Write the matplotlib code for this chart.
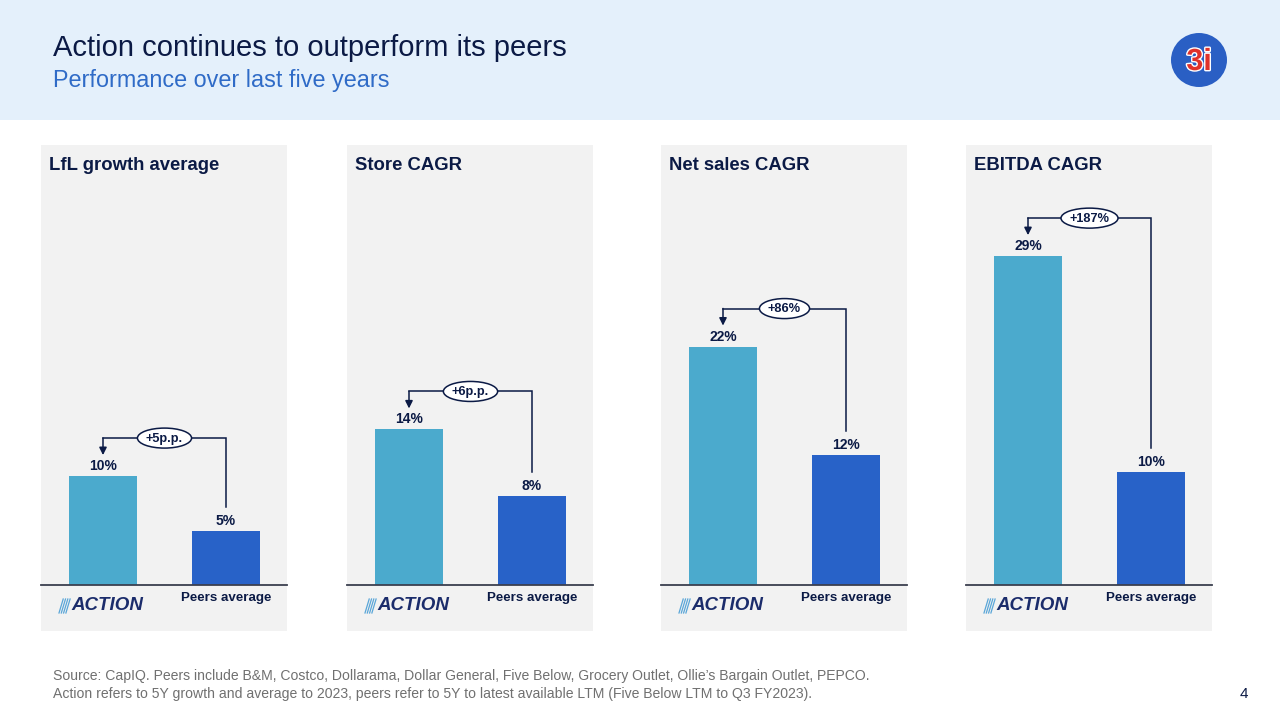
import matplotlib
matplotlib.use("Agg")
import matplotlib.pyplot as plt
from matplotlib.patches import Rectangle, Ellipse
from matplotlib.lines import Line2D
import matplotlib.patheffects as pe

plt.rcParams['font.family'] = ['Liberation Sans', 'DejaVu Sans']

# ---- data ----
panel_titles = ["LfL growth average", "Store CAGR", "Net sales CAGR", "EBITDA CAGR"]
action_values = [10, 14, 22, 29]
peer_values = [5, 8, 12, 10]
diff_labels = ["+5p.p.", "+6p.p.", "+86%", "+187%"]
category_labels = ["ACTION", "Peers average"]
title = "Action continues to outperform its peers"
subtitle = "Performance over last five years"
footnote_1 = "Source: CapIQ. Peers include B&M, Costco, Dollarama, Dollar General, Five Below, Grocery Outlet, Ollie\u2019s Bargain Outlet, PEPCO."
footnote_2 = "Action refers to 5Y growth and average to 2023, peers refer to 5Y to latest available LTM (Five Below LTM to Q3 FY2023)."
page_number = "4"

# ---- style ----
W, H = 1280, 720
NAVY = "#0B1A45"
SUB_BLUE = "#2F6BC7"
ACTION_C = "#4BAACD"
PEER_C = "#2862C8"
PANEL_BG = "#F2F2F2"
HEADER_BG = "#E4F0FB"

fig = plt.figure(figsize=(12.8, 7.2), dpi=100)
fig.patch.set_facecolor("white")
renderer = fig.canvas.get_renderer()


def fx(px):
    return px / W


def fy(py):
    return 1 - py / H


# header band
fig.patches.append(Rectangle((0, fy(120)), 1, 120 / H, transform=fig.transFigure,
                             facecolor=HEADER_BG, edgecolor="none", zorder=0))
fig.text(fx(53), fy(48), title, fontsize=21, color=NAVY, va="center", ha="left")
fig.text(fx(53), fy(80), subtitle, fontsize=16.8, color=SUB_BLUE, va="center", ha="left")

# 3i logo
fig.patches.append(Ellipse((fx(1199), fy(60)), 56 / W, 54 / H, transform=fig.transFigure,
                           facecolor="#2A5FC4", edgecolor="none", zorder=1, angle=0))
fig.text(fx(1199), fy(62), "3i", fontsize=22, fontweight="bold", color="#E0322B",
         ha="center", va="center", zorder=2,
         path_effects=[pe.withStroke(linewidth=2, foreground="white")])

panel_left = [41, 347, 661, 966]
panel_w = 246
panel_top = 145
panel_bottom = 631
baseline_y = 585
ylim_tops = [40.4, 39.6, 40.6, 38.8]
bar_w = 68
c0_off = 62   # action bar centre offset from panel left
c1_off = 185  # peers bar centre offset from panel left
unit = c1_off - c0_off

for i in range(4):
    L = panel_left[i]
    fig.patches.append(Rectangle((fx(L), fy(panel_bottom)), panel_w / W,
                                 (panel_bottom - panel_top) / H, transform=fig.transFigure,
                                 facecolor=PANEL_BG, edgecolor="none", zorder=0))
    fig.text(fx(L + 8), fy(166), panel_titles[i], fontsize=13.3, fontweight="bold",
             color=NAVY, ha="left", va="center")

    ax = fig.add_axes([fx(L), fy(baseline_y), panel_w / W, (baseline_y - panel_top) / H])
    ax.set_zorder(3)
    ax.set_facecolor("none")
    ax.set_xlim(-c0_off / unit, 1 + (panel_w - c1_off) / unit)
    top = ylim_tops[i]
    ax.set_ylim(0, top)
    ppu = (baseline_y - panel_top) / top  # pixels per unit

    a, p = action_values[i], peer_values[i]
    ax.bar([0, 1], [a, p], width=bar_w / unit, color=[ACTION_C, PEER_C], zorder=2)
    for x, v in zip([0, 1], [a, p]):
        ax.text(x, v + 10 / ppu, f"{v}%", ha="center", va="center", fontsize=10,
                fontweight="bold", color=NAVY)

    ax.axis("off")
    ax.plot([ax.get_xlim()[0], ax.get_xlim()[1]], [0, 0], color="#3B3F4F", lw=1.3,
            clip_on=False, zorder=3)

    # bracket
    y_br = a + 38 / ppu
    ax.plot([1, 1, 0], [p + 24 / ppu, y_br, y_br], color=NAVY, lw=1.1, zorder=3,
            solid_joinstyle="miter")
    ax.annotate("", xy=(0, a + 21 / ppu), xytext=(0, y_br + 0.01),
                arrowprops=dict(arrowstyle="-|>", color=NAVY, lw=1.1,
                                mutation_scale=11, shrinkA=0, shrinkB=0))
    t = ax.text(0.5, y_br - 0.8 / ppu, diff_labels[i], ha="center", va="center",
                fontsize=9.2, fontweight="bold", color=NAVY, zorder=5)
    tw = t.get_window_extent(renderer).width
    ax.add_patch(Ellipse((0.5, y_br), (tw + 17) / unit, 20 / ppu, facecolor="white",
                         edgecolor=NAVY, lw=1.1, zorder=4))

    # category labels: ACTION logo
    sx0 = L + c0_off - 44
    for k in range(4):
        x0 = sx0 + k * 2.3
        fig.add_artist(Line2D([fx(x0), fx(x0 + 4.2)], [fy(613), fy(599)],
                              transform=fig.transFigure, color="#5AA6D8", lw=0.9))
    fig.text(fx(L + c0_off - 32), fy(606), category_labels[0], fontsize=13.5,
             fontweight="bold", fontstyle="italic", color="#1B2C6B", ha="left", va="center")
    fig.text(fx(L + c1_off), fy(598), category_labels[1], fontsize=9.6, fontweight="bold",
             color=NAVY, ha="center", va="center")

fig.text(fx(53), fy(676), footnote_1, fontsize=10.1, color="#707070", ha="left", va="center")
fig.text(fx(53), fy(694), footnote_2, fontsize=10.1, color="#707070", ha="left", va="center")
fig.text(fx(1244), fy(694), page_number, fontsize=11, color=NAVY, ha="center", va="center")

fig.savefig("out.png", dpi=100, facecolor="white")
